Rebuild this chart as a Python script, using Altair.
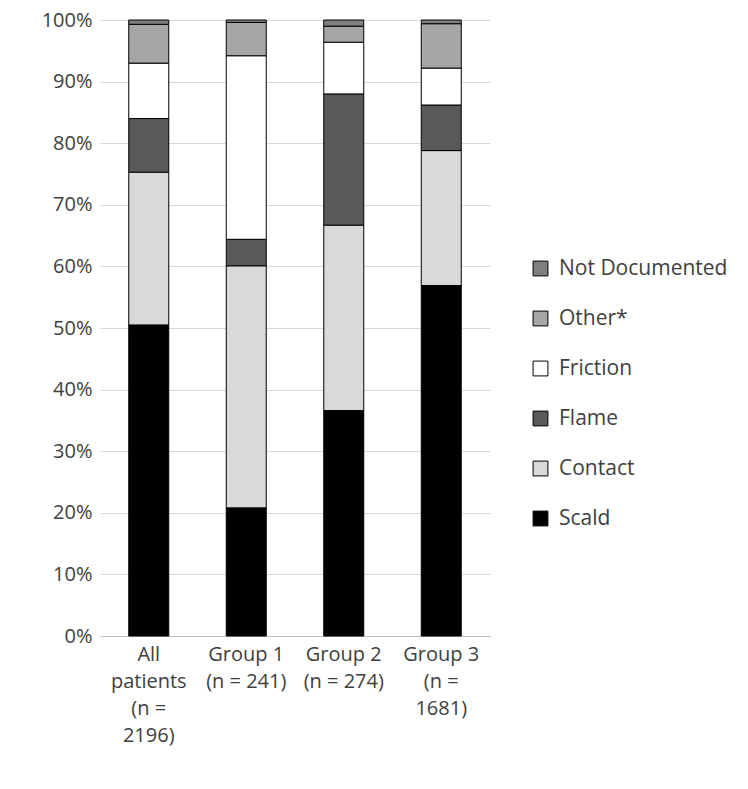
import altair as alt
import pandas as pd

groups = ["All patients (n = 2196)", "Group 1 (n = 241)", "Group 2 (n = 274)", "Group 3 (n = 1681)"]
label_lines = {
    "All patients (n = 2196)": ["All", "patients", "(n =", "2196)"],
    "Group 1 (n = 241)": ["Group 1", "(n = 241)"],
    "Group 2 (n = 274)": ["Group 2", "(n = 274)"],
    "Group 3 (n = 1681)": ["Group 3", "(n =", "1681)"],
}
categories = ["Scald", "Contact", "Flame", "Friction", "Other*", "Not Documented"]
scald = [50.5, 20.8, 36.6, 56.9]
contact = [24.8, 39.3, 30.1, 21.9]
flame = [8.7, 4.3, 21.3, 7.4]
friction = [9.0, 29.8, 8.4, 6.0]
other = [6.3, 5.4, 2.6, 7.2]
notdoc = [0.7, 0.4, 1.0, 0.6]
colors = ["#000000", "#d9d9d9", "#595959", "#ffffff", "#a6a6a6", "#7f7f7f"]

series = [scald, contact, flame, friction, other, notdoc]
rows = []
for ci, (cat, vals) in enumerate(zip(categories, series)):
    for g, v in zip(groups, vals):
        rows.append({"group": g, "cat": cat, "value": v / 100, "ord": ci})
df = pd.DataFrame(rows)

expr = " : ".join(
    [f"datum.value == '{g}' ? {label_lines[g]}" for g in groups]
) + " : datum.value"

chart = alt.Chart(df).mark_bar(size=40, stroke="black", strokeWidth=1).encode(
    x=alt.X("group:N", sort=groups, title=None,
            axis=alt.Axis(labelAngle=0, labelExpr=expr, labelFontSize=20, labelColor="#404040",
                          labelFont="Open Sans", labelPadding=8, ticks=False, domainColor="#bfbfbf",
                          labelLineHeight=27, labelBaseline="top")),
    y=alt.Y("value:Q", stack="zero", title=None,
            scale=alt.Scale(domain=[0, 1]),
            axis=alt.Axis(format="%", tickCount=10, labelFontSize=20, labelColor="#404040",
                          labelFont="Open Sans", domain=False, ticks=False, gridColor="#d9d9d9",
                          labelPadding=8)),
    color=alt.Color("cat:N", scale=alt.Scale(domain=list(reversed(categories)),
                                              range=list(reversed(colors))),
                    legend=alt.Legend(title=None, orient="none", legendX=430, legendY=238,
                                      labelFontSize=21, labelFont="Open Sans", labelColor="#404040",
                                      labelLimit=300,
                                      symbolType="square", symbolSize=220, symbolStrokeColor="black",
                                      symbolStrokeWidth=1, rowPadding=28, labelOffset=8)),
    order=alt.Order("ord:Q", sort="ascending"),
).properties(width=390, height=616,
             padding={"left": 33, "top": 2, "right": 5, "bottom": 5}).configure_view(stroke=None)

chart.save("out.html", embed_options={"renderer": "svg", "actions": False})
